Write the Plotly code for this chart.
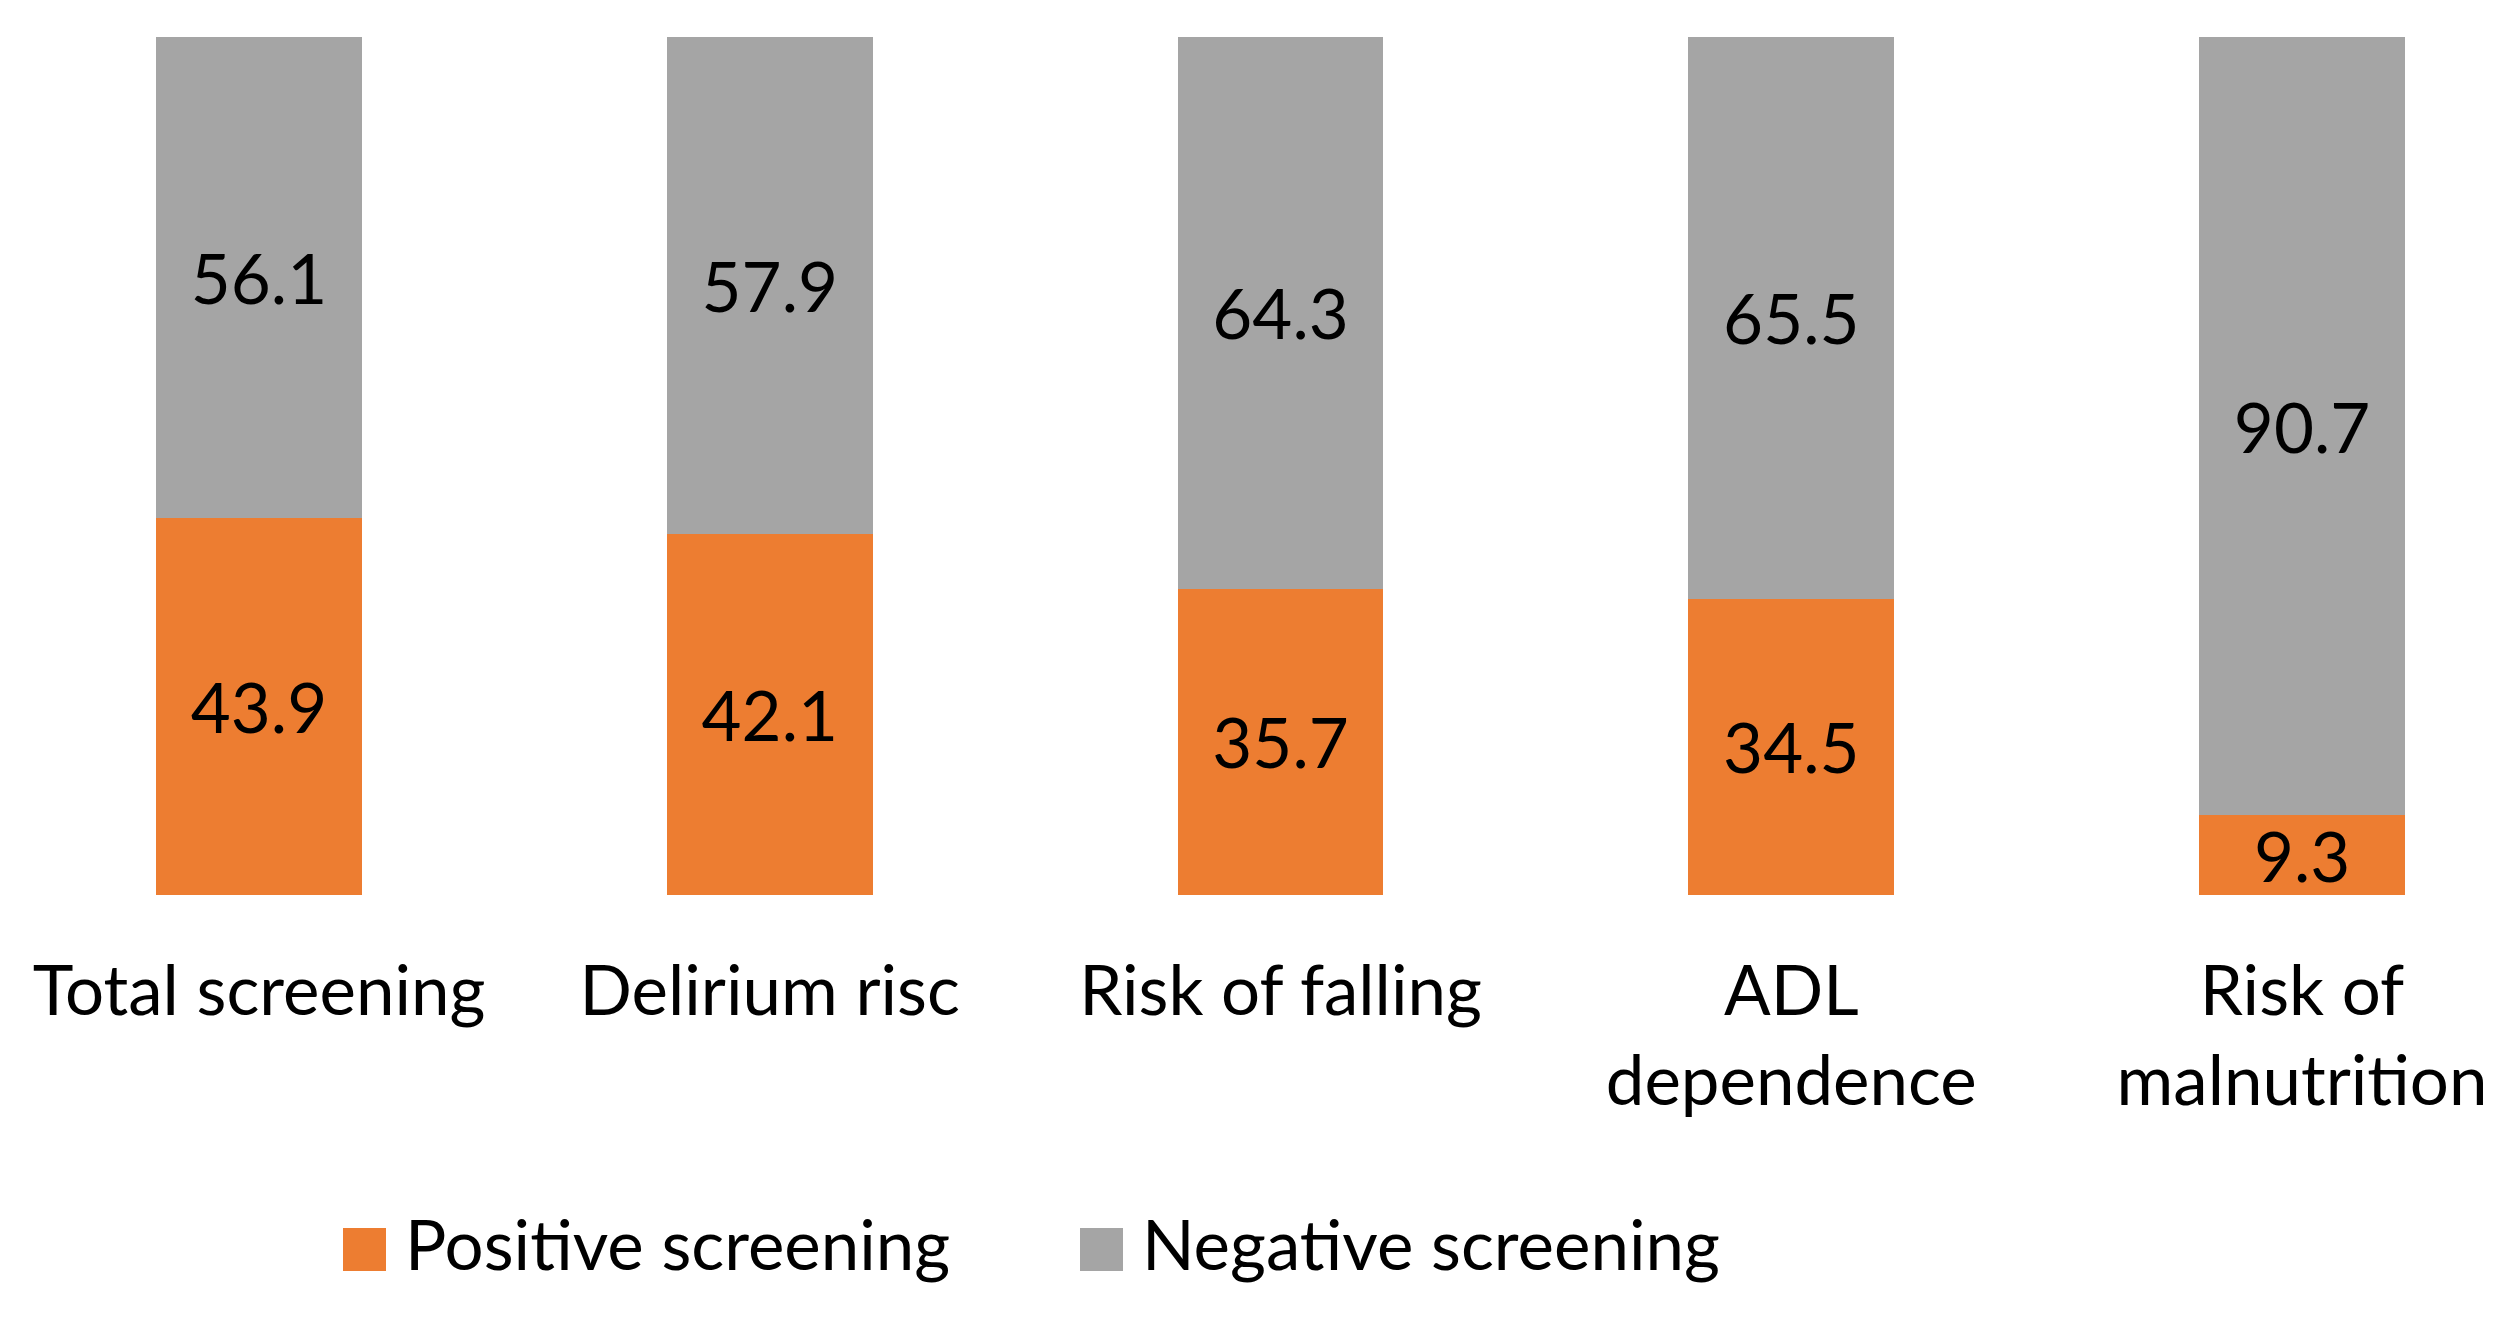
import plotly.graph_objects as go

categories = ["Total screening", "Delirium risc", "Risk of falling", "ADL dependence", "Risk of malnutrition"]
tick_labels = ["Total screening", "Delirium risc", "Risk of falling", "ADL<br>dependence", "Risk of<br>malnutrition"]
series_names = ["Positive screening", "Negative screening"]
positive = [43.9, 42.1, 35.7, 34.5, 9.3]
negative = [56.1, 57.9, 64.3, 65.5, 90.7]
colors = ["#ED7D31", "#A5A5A5"]

W, H = 2514, 1318
FONT = "Lato"
FS = 69

fig = go.Figure()
for name, vals, col in zip(series_names, [positive, negative], colors):
    fig.add_trace(go.Bar(
        x=categories, y=vals, name=name, marker=dict(color=col, line=dict(width=0)),
        width=0.403, text=vals, texttemplate="%{y:.1f}", textposition="inside",
        insidetextanchor="middle", textfont=dict(family=FONT, size=FS, color="#000000"),
        constraintext="none", showlegend=False, hoverinfo="skip",
    ))

# manual legend (large square swatches)
legend_items = [(343, 407), (1080, 1144)]
sq = 43
cy = 1249.5
for (sx, tx), name, col in zip(legend_items, series_names, colors):
    fig.add_shape(type="rect", xref="paper", yref="paper",
                  x0=sx / W, x1=(sx + sq) / W,
                  y0=1 - (cy + sq / 2) / H, y1=1 - (cy - sq / 2) / H,
                  fillcolor=col, line=dict(width=0))
    fig.add_annotation(xref="paper", yref="paper", x=(tx - 4) / W, y=1 - (cy - 6) / H,
                       xanchor="left", yanchor="middle", showarrow=False, text=name,
                       font=dict(family=FONT, size=FS, color="#000000"))

fig.update_layout(
    barmode="stack",
    width=W, height=H,
    margin=dict(l=0, r=0, t=0, b=0),
    paper_bgcolor="white", plot_bgcolor="white",
    uniformtext=dict(minsize=FS, mode="show"),
    font=dict(family=FONT, size=FS, color="#000000"),
    xaxis=dict(range=[-0.5071, 4.415], tickmode="array", tickvals=categories, ticktext=tick_labels,
               showgrid=False, zeroline=False, showline=False, ticks="",
               tickfont=dict(family=FONT, size=FS, color="#000000"), ticklabelstandoff=50),
    yaxis=dict(range=[0, 100], domain=[1 - 895 / H, 1 - 37 / H], visible=False, showgrid=False),
)

fig.write_html("out.html", config={"displayModeBar": False},
               post_script="document.body.style.margin='0px';")
